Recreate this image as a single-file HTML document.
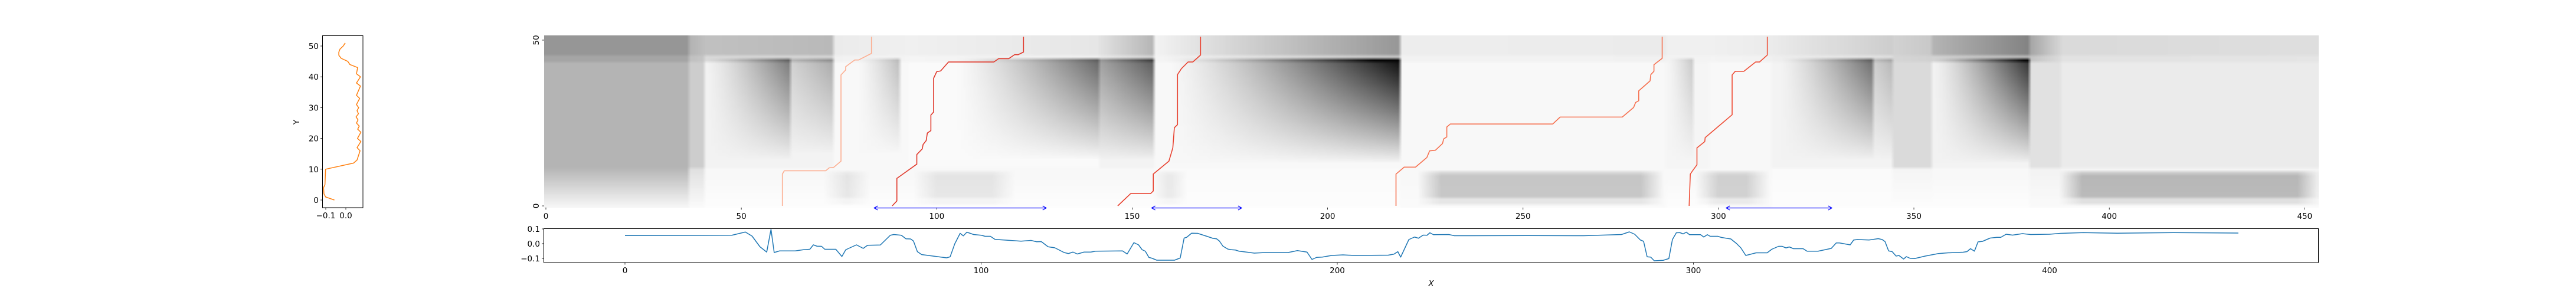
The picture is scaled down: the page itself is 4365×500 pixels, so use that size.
<!DOCTYPE html>
<html><head><meta charset="utf-8"><style>
html,body{margin:0;padding:0;background:#fff;}
#wrap{position:relative;width:4365px;height:500px;overflow:hidden;font-family:"Liberation Sans","DejaVu Sans",sans-serif;}
#hm{position:absolute;left:922px;top:59.6px;width:3006.5px;height:292.2px;}
svg{position:absolute;left:0;top:0;}
text{font-family:"DejaVu Sans","Liberation Sans",sans-serif;font-size:13.5px;fill:#000;}
</style></head><body>
<div id="wrap">
<canvas id="hm" width="454" height="52"></canvas>
<svg id="sv" width="4365" height="500"></svg>
</div>
<script>
// ---------- data ----------
const hmSegments = [ // x0,x1,topL,topR,mid,bot11,bot0
 [0,37,.42,.42,.30,.28,.04],[37,41,.3,.25,.2,.12,.02],[41,74,.25,.28,.05,.03,.01],
 [74,93,.08,.06,.03,.03,.01],[93,142,.06,.1,.02,.03,.01],[142,156,.12,.3,.05,.03,.01],
 [156,219,.05,.42,.03,.02,.01],[219,287,.07,.08,.03,.03,.02],[287,298,.06,.06,.04,.03,.01],
 [298,314,.06,.08,.03,.03,.02],[314,345,.08,.2,.05,.02,.01],[345,355,.18,.22,.15,.04,.01],
 [355,380,.3,.5,.05,.03,.01],[380,388,.35,.15,.12,.05,.02],[388,454,.15,.13,.08,.04,.02]];
const hmWedges = [ // clipStart,rampStart,x1,peak,rowLow
 [41,41,63,.5,14],[63,50,74,.3,16],[80,80,91,.25,16],[93,105,142,.6,14],[142,120,156,.62,14],
 [156,160,219,.95,13],[287,287,294,.2,14],[314,316,340,.55,14],[340,330,345,.25,14],[355,355,380,.8,13]];
const hmBlobs = [[72,83,.08],[95,120,.08],[156,164,.1],[224,286,.2],[295,313,.16],[388,454,.25]];
const paths = [
 {c:"#fcae91",x:[60.5,60.5,61,71.6,72.5,73.6,75.5,75.5,76.7,76.7,79,80,83.3,83.3],y:[0,9.6,10.6,10.6,11.5,11.6,13.5,39.5,41,42,44,44,46,51]},
 {c:"#e0382b",x:[88.6,89.8,89.8,94.9,94.9,96.3,96.5,97.3,97.6,98.5,98.5,99.2,99.2,100,101,103,114.6,115.8,118.4,119.9,120.8,122.2,122.2],y:[0,1.5,8.3,12.6,15.5,17.2,18.5,19.7,22,22.7,27.4,28.3,38.5,40.5,40.7,43.4,43.4,44.4,44.4,45.6,45.6,46.4,51]},
 {c:"#e8412f",x:[146.3,149.6,154.7,155.4,155.4,159.4,160.4,160.8,161.6,161.6,162.6,164.3,165.5,167.5,167.5],y:[0,3.7,3.7,4.5,9.6,13.5,17.5,23.6,24.5,39.6,41.4,43.4,43.4,45.5,51]},
 {c:"#f6704f",x:[217.5,217.5,219.6,222.5,225.4,226.1,227.6,229.4,229.7,230.5,230.5,231.4,257.6,259.5,275.4,278.3,278.8,279.6,279.6,282.5,282.7,283.5,283.5,285.6,285.6],y:[0,9.6,11.7,11.7,14.6,16.6,16.8,18.8,20.2,20.8,23.8,24.7,24.7,26.8,26.8,29.7,31.2,31.7,34.7,37.7,39.6,40.6,42.6,44.5,51]},
 {c:"#ee4e37",x:[292.5,292.8,293.5,294.5,294.5,296.5,296.6,303.5,303.5,304.3,306.5,309.5,310.5,312.5,312.5],y:[0,9.6,10.8,12.4,17.5,19.4,20.6,27.5,39.5,40.6,40.6,43.4,43.4,45.5,51]}];
const arrowsX0 = [84,155,302];
const arrowsX1 = [128,178,329];
const sigX = [0,30,33.8,35.7,37.9,39.8,41,41.9,43.4,47.8,50.1,51.9,52.9,53.9,55.2,56.1,59.2,60.9,62,65,66.9,68.1,71.7,74.5,75.5,77.6,78.9,80.2,81,82.1,83.3,90.3,91.3,92.6,94.1,95,96,97.9,100.1,101.1,102.6,103.9,111.2,114,115.6,116.9,118.8,120.7,123.3,124.5,125.8,127,128.9,130.8,132.1,139.7,141,142.9,144.2,145.2,146.1,147.1,148,149.3,154.3,155.9,157,157.7,159.1,160.8,163.5,165.1,166.1,166.9,167.9,169.3,170.3,171.4,172.4,173.5,176.7,179.8,186.2,188.8,191.5,192.9,194.2,195.8,198.4,201.6,204.8,214.3,215.9,217,217.8,220.1,221.7,222.8,224.1,225.2,226,227,231.3,232.9,237.6,253.4,269.2,279.8,282,283.5,285.1,286,287,288,289,291.5,293.1,294.1,295.2,296.2,297.1,298,298.9,302,302.9,303.9,304.7,306.8,307.9,310.5,312.1,313.3,314.7,317.6,320.7,322,323.9,324.9,326,326.9,328.1,330.8,331.9,335,338.7,340.1,341,344,345,346.1,349.3,351.9,353,353.8,354.8,355.8,356.9,357.7,359,359.8,360.9,362.1,365.1,368.8,371.5,375.7,376.8,377.8,378.9,379.9,381.2,383.3,385.2,386.3,387.8,389.6,392.4,394.7,400,403.1,409.5,419,434.8,453];
const sigY = [.055,.057,.079,.051,-.021,-.057,.097,-.06,-.049,-.049,-.041,-.038,-.008,-.017,-.018,-.038,-.038,-.087,-.041,-.008,-.032,-.011,-.009,.057,.062,.057,.033,.032,.018,-.054,-.074,-.096,-.089,-.001,.07,.053,.078,.062,.057,.05,.05,.029,.017,.022,.013,.014,-.021,-.028,-.06,-.067,-.057,-.07,-.057,-.057,-.051,-.049,-.07,.007,-.008,-.041,-.051,-.093,-.099,-.112,-.112,-.097,.038,.043,.071,.07,.049,.036,.033,.018,-.017,-.037,-.041,-.043,-.051,-.054,-.064,-.06,-.06,-.047,-.057,-.107,-.093,-.091,-.08,-.076,-.08,-.078,-.071,-.054,-.091,.028,.045,.037,.058,.057,.074,.061,.062,.054,.054,.055,.054,.062,.08,.064,.025,.016,-.089,-.091,-.116,-.113,-.101,.028,.074,.075,.066,.078,.061,.061,.045,.061,.05,.05,.042,.032,.001,-.028,-.08,-.062,-.062,-.038,-.018,-.018,-.029,-.022,-.034,-.034,-.051,-.051,-.032,.005,.005,-.008,.025,.028,.025,.034,.028,.014,-.049,-.054,-.084,-.08,-.104,-.088,-.1,-.101,-.084,-.067,-.062,-.058,-.054,-.034,-.051,.012,.016,.038,.043,.043,.064,.058,.068,.062,.064,.07,.075,.071,.075,.072];
const profY = [0,1,2,4,5,10,12,13,16,17,19,20,22,23,24,25,26,27,28,29,30,31,33,34,37,38,40,41,43,44,45,46,47,48,49,50,51];
const profV = [-.057,-.101,-.109,-.111,-.104,-.101,.039,.056,.071,.056,.075,.058,.075,.059,.067,.053,.061,.051,.063,.056,.064,.053,.069,.053,.073,.053,.073,.053,.059,.02,.01,-.023,-.035,-.035,-.029,-.013,-.003];
const hmXTicks = [0,50,100,150,200,250,300,350,400,450];
const hmYTicks = [0,50];
const sigXTicks = [0,100,200,300,400];
const sigYTicks = [0.1,0.0,-0.1];
const profXTicks = [-0.1,0.0];
const profYTicks = [0,10,20,30,40,50];

// ---------- scales ----------
const hx=v=>925+v*6.623, hy=r=>349-r*5.62;
const bx=v=>1059+v*6.035, by=v=>413-v*250;
const lx=v=>586+v*340, ly=v=>339-v*5.22;
const cl=t=>Math.max(0,Math.min(1,t));

// ---------- heatmap ----------
const ctx=document.getElementById('hm').getContext('2d');
const img=ctx.createImageData(454,52);
for(let x=0;x<454;x++){
  const s=hmSegments.find(g=>x>=g[0]&&x<g[1])||hmSegments[hmSegments.length-1];
  const t=cl((x-s[0])/(s[1]-s[0]));
  const top=s[2]+(s[3]-s[2])*t;
  for(let r=0;r<52;r++){
    let d;
    if(r>=46) d=top;
    else if(r>=44) d=(top+s[4])/2;
    else if(r>=12) d=s[4];
    else d=s[6]+(s[5]-s[6])*(r/11);
    if(r<=44&&r>=8) for(const w of hmWedges){ if(x>=w[0]&&x<w[2]){
      const fx=cl((x-w[1])/(w[2]-w[1])), fy=cl((r-w[4])/(44-w[4]));
      d+=w[3]*Math.pow(fx,1.3)*Math.pow(fy,0.9);} }
    if(r>=1&&r<=10) for(const b of hmBlobs){ if(x>=b[0]&&x<b[1]){
      const ex=cl(Math.min(x-b[0]+1,b[1]-x)/6), ey=r<=2?0.4:(r>=10?0.7:1);
      d+=b[2]*ex*ey;} }
    d=cl(d);
    const g=Math.round(255*(1-d*0.98));
    const i=((51-r)*454+x)*4;
    img.data[i]=g;img.data[i+1]=g;img.data[i+2]=g;img.data[i+3]=255;
  }
}
ctx.putImageData(img,0,0);

// ---------- svg ----------
const NS='http://www.w3.org/2000/svg', sv=document.getElementById('sv');
function mk(tag,a,parent){const e=document.createElementNS(NS,tag);for(const k in a)e.setAttribute(k,a[k]);(parent||sv).appendChild(e);return e;}
function txt(s,x,y,anchor,extra){const e=mk('text',Object.assign({x:x,y:y,'text-anchor':anchor||'middle'},extra||{}));e.textContent=s;return e;}
const fmt=v=>(v<0?'\u2212':'')+Math.abs(v).toFixed(1);

// heatmap ticks
for(const v of hmXTicks){
  const t=mk('line',{x1:hx(v),x2:hx(v),y1:351.8,y2:355.3,stroke:'#000','stroke-width':0.8});
  
  const l=txt(String(v),hx(v),371);
  
}
for(const v of hmYTicks){
  const t=mk('line',{x1:918.5,x2:922,y1:hy(v),y2:hy(v),stroke:'#000','stroke-width':0.8});
  
  const l=txt(String(v),0,0,'middle',{transform:`translate(913,${hy(v)}) rotate(-90)`});
  
}
// warping paths
paths.forEach((p,k)=>{
  const pts=p.x.map((v,i)=>hx(v)+','+hy(p.y[i])).join(' ');
  const e=mk('polyline',{points:pts,fill:'none',stroke:p.c,'stroke-width':1.6,'stroke-linejoin':'round'});
  
  
});
// arrows
arrowsX0.forEach((a,k)=>{
  const x0=hx(a),x1=hx(arrowsX1[k]),y=352.5;
  const g=mk('g',{stroke:'#0000ff','stroke-width':1.3,fill:'none'});
  
  
  mk('line',{x1:x0,x2:x1,y1:y,y2:y},g);
  mk('polyline',{points:`${x0+6},${y-3.5} ${x0},${y} ${x0+6},${y+3.5}`},g);
  mk('polyline',{points:`${x1-6},${y-3.5} ${x1},${y} ${x1-6},${y+3.5}`},g);
});

// bottom signal plot
{
  const fr=mk('rect',{x:921.5,y:387.5,width:3007,height:57.5,fill:'none',stroke:'#000','stroke-width':1});
  
  const pts=sigX.map((v,i)=>bx(v)+','+by(sigY[i])).join(' ');
  const ln=mk('polyline',{points:pts,fill:'none',stroke:'#1f77b4','stroke-width':1.5,'stroke-linejoin':'round'});
  
  for(const v of sigXTicks){
    const t=mk('line',{x1:bx(v),x2:bx(v),y1:445,y2:448.5,stroke:'#000','stroke-width':0.8});
    
    const l=txt(String(v),bx(v),463);
    
  }
  for(const v of sigYTicks){
    const t=mk('line',{x1:918,x2:921.5,y1:by(v),y2:by(v),stroke:'#000','stroke-width':0.8});
    
    const l=txt(fmt(v),915,by(v)+5,'end');
    
  }
  const xl=txt('X',2425,485,'middle',{'font-style':'italic'});
  
}

// left profile plot
{
  const fr=mk('rect',{x:546.5,y:60.5,width:68.5,height:291.5,fill:'none',stroke:'#000','stroke-width':1});
  
  const pts=profY.map((v,i)=>lx(profV[i])+','+ly(v)).join(' ');
  const ln=mk('polyline',{points:pts,fill:'none',stroke:'#ff7f0e','stroke-width':1.5,'stroke-linejoin':'round'});
  
  for(const v of profYTicks){
    const t=mk('line',{x1:543,x2:546.5,y1:ly(v),y2:ly(v),stroke:'#000','stroke-width':0.8});
    
    const l=txt(String(v),540,ly(v)+5,'end');
    
  }
  for(const v of profXTicks){
    const t=mk('line',{x1:lx(v),x2:lx(v),y1:352,y2:355.5,stroke:'#000','stroke-width':0.8});
    
    const l=txt(fmt(v),lx(v),370);
    
  }
  const yl=txt('Y',0,0,'middle',{transform:'translate(507,207) rotate(-90)'});
  
}
</script>
</body></html>
